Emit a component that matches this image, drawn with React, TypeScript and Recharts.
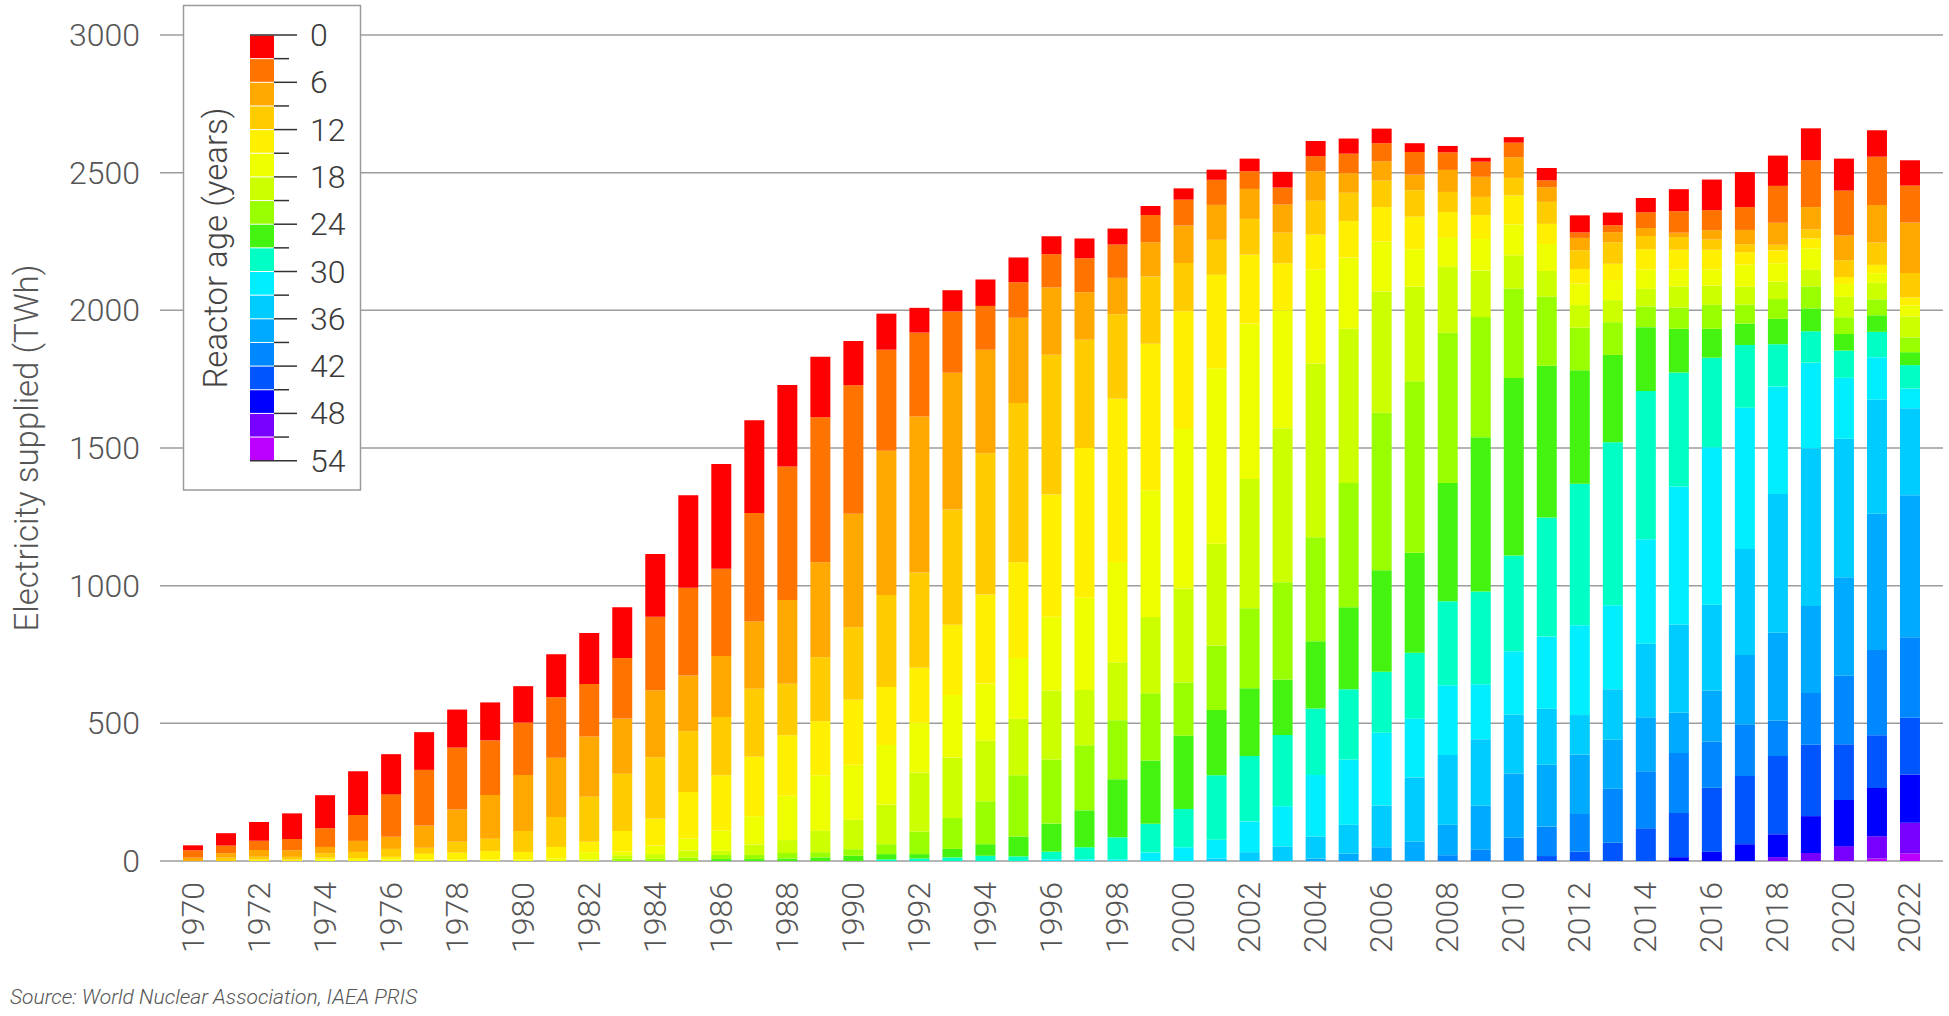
import { BarChart, Bar, XAxis, YAxis, CartesianGrid } from "recharts";

const FONT = "Roboto, 'Liberation Sans', Arial, sans-serif";

const years = [
  1970, 1971, 1972, 1973, 1974, 1975, 1976, 1977, 1978, 1979,
  1980, 1981, 1982, 1983, 1984, 1985, 1986, 1987, 1988, 1989,
  1990, 1991, 1992, 1993, 1994, 1995, 1996, 1997, 1998, 1999,
  2000, 2001, 2002, 2003, 2004, 2005, 2006, 2007, 2008, 2009,
  2010, 2011, 2012, 2013, 2014, 2015, 2016, 2017, 2018, 2019,
  2020, 2021, 2022,
];

// TWh supplied by reactors of each 3-year age band (0-3 years first)
const age0 = [18, 45, 68, 93, 120, 159, 146, 137, 138, 138, 132, 156, 185, 185, 228, 336, 381, 337, 296, 219, 161, 131, 90, 77, 96, 90, 65, 72, 58, 33, 41, 37, 46, 57, 55, 55, 53, 32, 23, 14, 20, 45, 62, 46, 52, 80, 111, 127, 110, 116, 116, 96, 92];
const age3 = [27, 28, 34, 41, 68, 94, 154, 202, 225, 198, 191, 220, 191, 219, 267, 318, 316, 394, 485, 527, 467, 367, 305, 223, 159, 129, 121, 123, 121, 99, 94, 91, 64, 62, 55, 71, 66, 82, 64, 55, 53, 25, 20, 25, 57, 78, 73, 83, 134, 170, 163, 175, 134];
const age6 = [12, 16, 25, 24, 23, 40, 44, 81, 117, 159, 203, 215, 219, 201, 243, 203, 222, 244, 304, 345, 412, 524, 566, 496, 376, 310, 244, 173, 132, 124, 136, 127, 109, 102, 107, 71, 70, 57, 80, 73, 75, 53, 45, 37, 29, 16, 34, 52, 80, 81, 90, 137, 183];
const age9 = [0, 12, 10, 10, 16, 22, 29, 22, 40, 45, 76, 109, 163, 208, 224, 220, 212, 247, 187, 232, 263, 334, 346, 419, 513, 578, 508, 393, 307, 244, 175, 127, 130, 111, 123, 103, 96, 96, 73, 66, 64, 80, 68, 78, 48, 46, 37, 29, 20, 33, 61, 81, 89];
const age12 = [0, 0, 5, 5, 7, 7, 10, 21, 25, 31, 28, 41, 38, 75, 97, 169, 200, 216, 220, 197, 236, 211, 200, 255, 323, 348, 444, 544, 593, 532, 428, 339, 250, 171, 127, 132, 125, 118, 94, 87, 105, 73, 53, 59, 73, 71, 71, 45, 47, 36, 25, 30, 29];
const age15 = [0, 0, 0, 0, 5, 4, 5, 5, 5, 5, 5, 10, 27, 13, 31, 44, 74, 103, 161, 201, 200, 217, 181, 227, 208, 220, 268, 335, 364, 461, 579, 638, 565, 428, 341, 259, 182, 136, 105, 114, 112, 98, 78, 73, 71, 62, 59, 80, 67, 78, 47, 35, 40];
const age18 = [0, 0, 0, 0, 0, 0, 0, 0, 0, 0, 0, 0, 5, 13, 17, 26, 15, 38, 47, 78, 107, 143, 214, 220, 220, 206, 250, 201, 211, 277, 342, 369, 469, 560, 631, 560, 440, 344, 239, 169, 121, 93, 82, 80, 64, 77, 70, 65, 63, 60, 74, 60, 76];
const age21 = [0, 0, 0, 0, 0, 0, 0, 0, 0, 0, 0, 0, 0, 8, 8, 12, 15, 15, 20, 19, 24, 36, 82, 112, 156, 222, 233, 236, 214, 244, 193, 235, 291, 353, 378, 451, 572, 622, 546, 437, 325, 251, 155, 119, 75, 77, 87, 69, 72, 80, 61, 58, 54];
const age24 = [0, 0, 0, 0, 0, 0, 0, 0, 0, 0, 0, 0, 0, 0, 0, 0, 7, 7, 9, 13, 19, 19, 16, 31, 42, 72, 102, 134, 211, 230, 266, 237, 246, 201, 244, 298, 369, 364, 430, 560, 644, 551, 412, 317, 232, 159, 105, 78, 92, 83, 60, 60, 47];
const age27 = [0, 0, 0, 0, 0, 0, 0, 0, 0, 0, 0, 0, 0, 0, 0, 0, 0, 0, 0, 0, 0, 6, 9, 13, 19, 17, 28, 44, 80, 104, 139, 234, 237, 259, 242, 255, 221, 239, 305, 337, 348, 433, 514, 592, 538, 414, 325, 228, 154, 114, 99, 92, 85];
const age30 = [0, 0, 0, 0, 0, 0, 0, 0, 0, 0, 0, 0, 0, 0, 0, 0, 0, 0, 0, 0, 0, 0, 0, 0, 0, 0, 6, 6, 6, 31, 50, 68, 112, 146, 223, 237, 264, 214, 253, 200, 230, 262, 326, 305, 380, 501, 572, 513, 390, 311, 221, 155, 72];
const age33 = [0, 0, 0, 0, 0, 0, 0, 0, 0, 0, 0, 0, 0, 0, 0, 0, 0, 0, 0, 0, 0, 0, 0, 0, 0, 0, 0, 0, 0, 0, 0, 9, 32, 53, 80, 105, 152, 232, 253, 241, 214, 203, 143, 184, 267, 321, 312, 385, 504, 573, 503, 414, 316];
const age36 = [0, 0, 0, 0, 0, 0, 0, 0, 0, 0, 0, 0, 0, 0, 0, 0, 0, 0, 0, 0, 0, 0, 0, 0, 0, 0, 0, 0, 0, 0, 0, 0, 0, 0, 9, 27, 50, 71, 111, 160, 234, 225, 216, 178, 196, 146, 185, 251, 320, 316, 358, 495, 515];
const age39 = [0, 0, 0, 0, 0, 0, 0, 0, 0, 0, 0, 0, 0, 0, 0, 0, 0, 0, 0, 0, 0, 0, 0, 0, 0, 0, 0, 0, 0, 0, 0, 0, 0, 0, 0, 0, 0, 0, 21, 41, 84, 107, 137, 196, 207, 218, 168, 188, 128, 188, 249, 309, 293];
const age42 = [0, 0, 0, 0, 0, 0, 0, 0, 0, 0, 0, 0, 0, 0, 0, 0, 0, 0, 0, 0, 0, 0, 0, 0, 0, 0, 0, 0, 0, 0, 0, 0, 0, 0, 0, 0, 0, 0, 0, 0, 0, 18, 34, 66, 119, 160, 232, 248, 284, 259, 202, 192, 206];
const age45 = [0, 0, 0, 0, 0, 0, 0, 0, 0, 0, 0, 0, 0, 0, 0, 0, 0, 0, 0, 0, 0, 0, 0, 0, 0, 0, 0, 0, 0, 0, 0, 0, 0, 0, 0, 0, 0, 0, 0, 0, 0, 0, 0, 0, 0, 14, 34, 61, 83, 134, 168, 175, 175];
const age48 = [0, 0, 0, 0, 0, 0, 0, 0, 0, 0, 0, 0, 0, 0, 0, 0, 0, 0, 0, 0, 0, 0, 0, 0, 0, 0, 0, 0, 0, 0, 0, 0, 0, 0, 0, 0, 0, 0, 0, 0, 0, 0, 0, 0, 0, 0, 0, 0, 14, 29, 54, 81, 112];
const age51 = [0, 0, 0, 0, 0, 0, 0, 0, 0, 0, 0, 0, 0, 0, 0, 0, 0, 0, 0, 0, 0, 0, 0, 0, 0, 0, 0, 0, 0, 0, 0, 0, 0, 0, 0, 0, 0, 0, 0, 0, 0, 0, 0, 0, 0, 0, 0, 0, 0, 0, 0, 9, 27];

const bandValues = [age0, age3, age6, age9, age12, age15, age18, age21, age24, age27, age30, age33, age36, age39, age42, age45, age48, age51];

const bandColors = [
  "#ff0000", "#ff7300", "#ffa800", "#ffcc00", "#fff000", "#eeff00",
  "#ccff00", "#99ff00", "#44f410", "#00ffc4", "#00eeff", "#00ccff",
  "#00aaff", "#0088ff", "#0055ff", "#0000ff", "#7700ff", "#bb00ff",
];

const yTicks = [0, 500, 1000, 1500, 2000, 2500, 3000];
const legendTicks = [0, 6, 12, 18, 24, 30, 36, 42, 48, 54];

const data = years.map((year, i) => {
  const row: Record<string, number> = { year };
  bandValues.forEach((vals, k) => {
    row["b" + k] = vals[i];
  });
  return row;
});

function YTick(props: any) {
  const { x, y, payload } = props;
  return (
    <text x={x - 20} y={y} textAnchor="end" dominantBaseline="central" fontSize={32} fill="#555" fontFamily={FONT} fontWeight={300}>
      {payload.value}
    </text>
  );
}

function XTick(props: any) {
  const { x, y, payload } = props;
  const ty = y + 21;
  return (
    <text x={x} y={ty} transform={`rotate(-90, ${x}, ${ty})`} textAnchor="end" dominantBaseline="central" fontSize={32} fill="#555" fontFamily={FONT} fontWeight={300}>
      {payload.value}
    </text>
  );
}

function AgeLegend() {
  const top = 35;
  const h = 23.65;
  const left = 250;
  const right = 274;
  return (
    <g>
      <rect x={183.5} y={5.5} width={177} height={484.5} fill="#fff" stroke="#9a9a9a" strokeWidth={1.5} />
      {bandColors.map((c, k) => (
        <rect key={c} x={left} y={top + k * h + 0.5} width={right - left} height={h - 1} fill={c} />
      ))}
      {bandColors.concat(["end"]).map((_, j) => {
        const y = top + j * h;
        const major = j % 2 === 0;
        const x1 = j === 0 || j === bandColors.length ? left : right;
        return <line key={j} x1={x1} x2={major ? 297 : 289} y1={y} y2={y} stroke="#333" strokeWidth={1.5} />;
      })}
      {legendTicks.map((t) => (
        <text key={t} x={310} y={top + (t / 3) * h} dominantBaseline="central" fontSize={32} fill="#3a3a3a" fontFamily={FONT} fontWeight={300}>
          {t}
        </text>
      ))}
      <text x={215} y={248} transform="rotate(-90, 215, 248)" textAnchor="middle" dominantBaseline="central" fontSize={33} fill="#444" fontFamily={FONT} fontWeight={300}>
        Reactor age (years)
      </text>
    </g>
  );
}

export default function App() {
  return (
    <div style={{ position: "absolute", left: 0, top: 0, width: 1949, height: 1016, background: "#fff", overflow: "hidden" }}>
      <BarChart width={1949} height={1016} data={data} margin={{ top: 35, right: 6, left: 60, bottom: 0 }}>
        <CartesianGrid vertical={false} stroke="#9c9c9c" strokeWidth={1.5} />
        <XAxis
          dataKey="year"
          interval={1}
          tickLine={false}
          axisLine={false}
          tickSize={0}
          tickMargin={0}
          height={155}
          padding={{ left: 16, right: 17 }}
          tick={(p: any) => <XTick {...p} />}
        />
        <YAxis
          domain={[0, 3000]}
          ticks={yTicks}
          width={100}
          tickLine={false}
          axisLine={false}
          tickSize={0}
          tickMargin={0}
          tick={(p: any) => <YTick {...p} />}
        />
        {bandColors
          .map((c, k) => ({ c, k }))
          .reverse()
          .map(({ c, k }) => (
            <Bar key={k} dataKey={"b" + k} stackId="age" fill={c} barSize={20} isAnimationActive={false} />
          ))}
      </BarChart>
      <svg width={1949} height={1016} style={{ position: "absolute", left: 0, top: 0, pointerEvents: "none" }}>
        <AgeLegend />
        <text x={26} y={448} transform="rotate(-90, 26, 448)" textAnchor="middle" dominantBaseline="central" fontSize={33} fill="#555" fontFamily={FONT} fontWeight={300}>
          Electricity supplied (TWh)
        </text>
        <text x={10} y={1004} fontSize={21} fontStyle="italic" fill="#555" fontFamily={FONT} fontWeight={300}>
          Source: World Nuclear Association, IAEA PRIS
        </text>
      </svg>
    </div>
  );
}
